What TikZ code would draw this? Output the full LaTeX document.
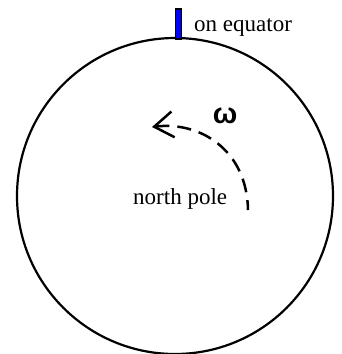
\documentclass[tikz,border=0pt]{standalone}
\usepackage{fontspec}
\setmainfont{Liberation Serif}
\newfontfamily\omegafont{Liberation Sans}
\usetikzlibrary{arrows.meta}
\begin{document}
\begin{tikzpicture}[x=1pt,y=-1pt,
  earth/.style={draw=black,line width=2.2pt},
  marker/.style={draw=black,fill=blue,line width=1.6pt},
  lbl/.style={font=\fontsize{23}{26}\selectfont,inner sep=0pt,anchor=base west},
  rotarrow/.style={draw=black,line width=2.5pt,dash pattern=on 14pt off 8pt,{Straight Barb[length=19pt,width=26pt,line width=2.5pt]}-}
]
\useasboundingbox (0,0) rectangle (342,354);
\node[earth,circle,minimum size=316pt,inner sep=0pt] (earth) at (175,196) {};
\node[marker,rectangle,minimum width=6pt,minimum height=30pt,inner sep=0pt,anchor=south] (rod) at (178.5,40) {};
\node[lbl] (eq) at (194,31) {on equator};
\node[lbl] (np) at (133,204) {north pole};
\node[inner sep=0pt,font=\omegafont\bfseries\fontsize{29}{30}\selectfont] (om) at (225,116) {ω};
\coordinate (s) at (248,210);
\coordinate (e) at (152,127);
\draw[rotarrow] (e) .. controls (200,121) and (247,150) .. (s);
\end{tikzpicture}
\end{document}
